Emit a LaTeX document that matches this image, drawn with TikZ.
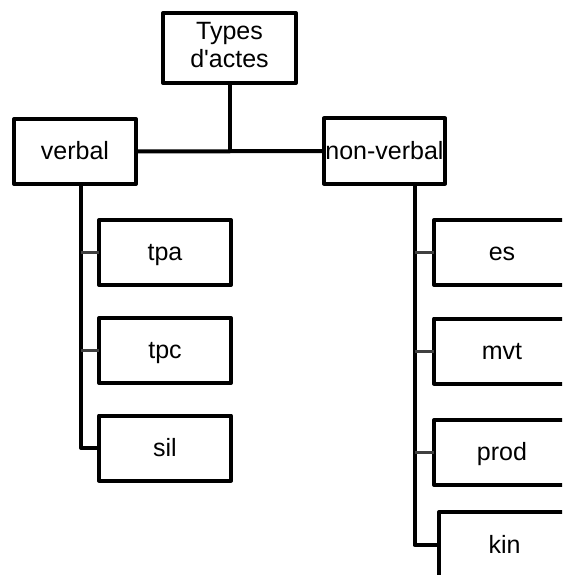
\documentclass[tikz,border=0pt]{standalone}
\usepackage{fontspec}
\setmainfont{Liberation Sans}
\begin{document}
\begin{tikzpicture}[x=1pt,y=-1pt]
\tikzset{
  box/.style={draw, line width=4pt, minimum height=65pt, inner sep=0pt, outer sep=0pt,
    font=\fontsize{25}{28}\selectfont, align=center, line join=round,
    text height=18pt, text depth=2pt},
  trunk/.style={line width=4pt, line join=round},
  stub/.style={line width=3pt, draw=black!75}
}
\useasboundingbox (0,0) rectangle (562,575);
\clip (0,0) rectangle (562,575);
\fill[white] (0,0) rectangle (562,575);
% nodes
\node[box, minimum width=133pt, minimum height=70pt, text height=46pt, text depth=6pt] (top) at (229.5,48) {Types\\d\textquotesingle actes};
\node[box, minimum width=122pt] (verbal) at (75,151.5) {verbal};
\node[box, minimum width=121pt] (nonverbal) at (384.5,151) {non-verbal};
\node[box, minimum width=132pt] (tpa) at (165,252.5) {tpa};
\node[box, minimum width=132pt] (tpc) at (165,350.5) {tpc};
\node[box, minimum width=132pt] (sil) at (165,448) {sil};
\node[box, minimum width=136pt] (es) at (502,252.5) {es};
\node[box, minimum width=136pt] (mvt) at (502,351) {mvt};
\node[box, minimum width=136pt] (prod) at (502,452.5) {prod};
\node[box, minimum width=131pt, minimum height=66pt] (kin) at (504.5,545) {kin};
% connectors
\draw[trunk] (top.south) -- (top.south |- verbal.east);
\draw[trunk] (verbal.east) -- (nonverbal.west);
\draw[trunk] ([xshift=6pt]verbal.south) |- (sil.west);
\draw[stub] ([xshift=6pt]verbal.south |- tpa.west) -- (tpa.west);
\draw[stub] ([xshift=6pt]verbal.south |- tpc.west) -- (tpc.west);
\draw[trunk] ([xshift=30pt]nonverbal.south) |- (kin.west);
\draw[stub] ([xshift=30pt]nonverbal.south |- es.west) -- (es.west);
\draw[stub] ([xshift=30pt]nonverbal.south |- mvt.west) -- (mvt.west);
\draw[stub] ([xshift=30pt]nonverbal.south |- prod.west) -- (prod.west);
\end{tikzpicture}
\end{document}
